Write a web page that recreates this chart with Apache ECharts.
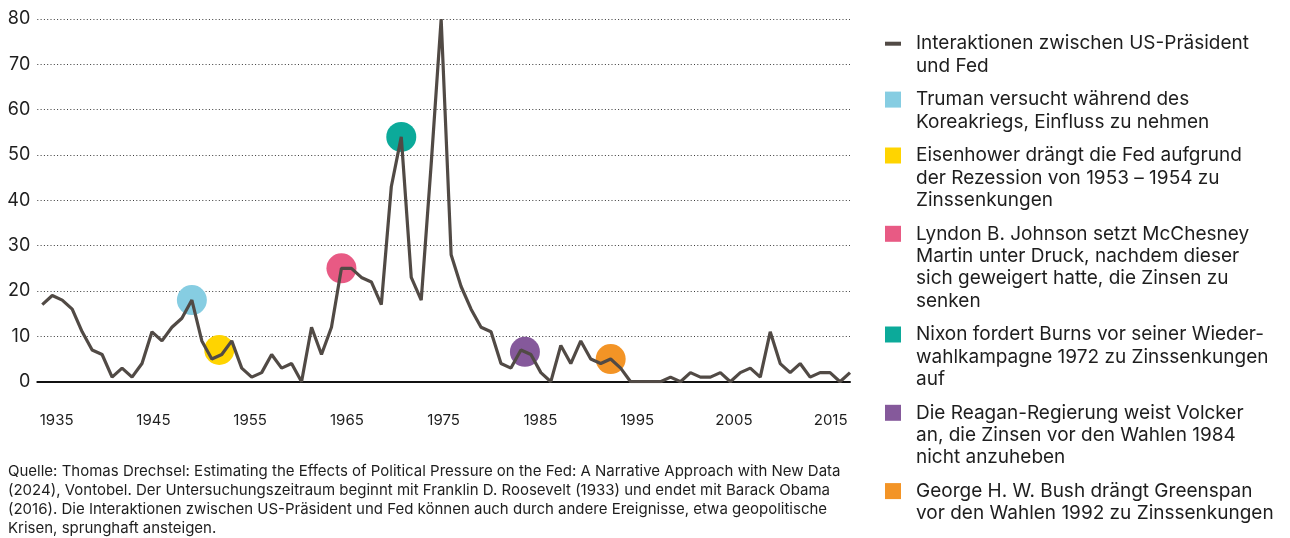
<!DOCTYPE html>
<html lang="de">
<head>
<meta charset="utf-8">
<title>Interaktionen zwischen US-Präsident und Fed</title>
<script src="https://cdn.jsdelivr.net/npm/echarts@6/dist/echarts.min.js"></script>
<style>
  html, body { margin: 0; padding: 0; background: #fff; }
  #chart { width: 1290px; height: 538px; }
</style>
</head>
<body>
<div id="chart"></div>
<script>
// Jährliche Interaktionen zwischen US-Präsident und Fed
const years = [
  1935, 1936, 1937, 1938, 1939, 1940, 1941, 1942, 1943, 1944,
  1945, 1946, 1947, 1948, 1949, 1950, 1951, 1952, 1953, 1954,
  1955, 1956, 1957, 1958, 1959, 1960, 1961, 1962, 1963, 1964,
  1965, 1966, 1967, 1968, 1969, 1970, 1971, 1972, 1973, 1974,
  1975, 1976, 1977, 1978, 1979, 1980, 1981, 1982, 1983, 1984,
  1985, 1986, 1987, 1988, 1989, 1990, 1991, 1992, 1993, 1994,
  1995, 1996, 1997, 1998, 1999, 2000, 2001, 2002, 2003, 2004,
  2005, 2006, 2007, 2008, 2009, 2010, 2011, 2012, 2013, 2014,
  2015, 2016
];
const interactions = [
  17, 19, 18, 16, 11, 7, 6, 1, 3, 1,
  4, 11, 9, 12, 14, 18, 9, 5, 6, 9,
  3, 1, 2, 6, 3, 4, 0, 12, 6, 12,
  25, 25, 23, 22, 17, 43, 54, 23, 18, 48,
  80, 28, 21, 16, 12, 11, 4, 3, 7, 6,
  2, 0, 8, 4, 9, 5, 4, 5, 3, 0,
  0, 0, 0, 1, 0, 2, 1, 1, 2, 0,
  2, 3, 1, 11, 4, 2, 4, 1, 2, 2,
  0, 2
];

// Beschriftete Jahre der Zeitachse
const yearTicks = [1935, 1945, 1955, 1965, 1975, 1985, 1995, 2005, 2015];

// Hervorgehobene Episoden politischen Drucks
const lineName = 'Interaktionen zwischen US-Präsident\nund Fed';
const eventNames = [
  'Truman versucht während des\nKoreakriegs, Einfluss zu nehmen',
  'Eisenhower drängt die Fed aufgrund\nder Rezession von 1953 – 1954 zu\nZinssenkungen',
  'Lyndon B. Johnson setzt McChesney\nMartin unter Druck, nachdem dieser\nsich geweigert hatte, die Zinsen zu\nsenken',
  'Nixon fordert Burns vor seiner Wieder-\nwahlkampagne 1972 zu Zinssenkungen\nauf',
  'Die Reagan-Regierung weist Volcker\nan, die Zinsen vor den Wahlen 1984\nnicht anzuheben',
  'George H. W. Bush drängt Greenspan\nvor den Wahlen 1992 zu Zinssenkungen'
];
const eventYears = [1950, 1952.75, 1965, 1971, 1983.4, 1992];
const eventValues = [18, 7, 25, 54, 6.6, 5];
const eventColors = ['#86cde2', '#ffd400', '#e85a84', '#0caa9a', '#85599b', '#f39426'];

const sourceNote = [
  'Quelle: Thomas Drechsel: Estimating the Effects of Political Pressure on the Fed: A Narrative Approach with New Data',
  '(2024), Vontobel. Der Untersuchungszeitraum beginnt mit Franklin D. Roosevelt (1933) und endet mit Barack Obama',
  '(2016). Die Interaktionen zwischen US-Präsident und Fed können auch durch andere Ereignisse, etwa geopolitische',
  'Krisen, sprunghaft ansteigen.'
];

const FONT = 'Inter, "Noto Sans", sans-serif';
const INK = '#1e1e1e';
const LINE_COLOR = '#514a45';

const chart = echarts.init(document.getElementById('chart'), null, { renderer: 'canvas' });

// Legend built as graphic elements so the marker sits on the first text line
const legendGraphics = [];
const legendEntries = [{ name: lineName, color: LINE_COLOR, line: true }]
  .concat(eventNames.map((n, i) => ({ name: n, color: eventColors[i], line: false })));
const LEG_LINE_H = 22.4;
const LEG_GAP = 11.1;
let rowCenter = 43.7;
legendEntries.forEach(entry => {
  const nLines = entry.name.split('\n').length;
  if (entry.line) {
    legendGraphics.push({
      type: 'rect', x: 885, y: rowCenter - 2, shape: { width: 16, height: 4 },
      style: { fill: entry.color }
    });
  } else {
    legendGraphics.push({
      type: 'rect', x: 885, y: rowCenter - 8, shape: { width: 16, height: 16 },
      style: { fill: entry.color }
    });
  }
  legendGraphics.push({
    type: 'text', x: 916, y: rowCenter - LEG_LINE_H / 2,
    style: {
      text: entry.name, fontFamily: FONT, fontSize: 19, lineHeight: LEG_LINE_H,
      fill: INK, verticalAlign: 'top', align: 'left'
    }
  });
  rowCenter += nLines * LEG_LINE_H + LEG_GAP;
});

legendGraphics.push({
  type: 'text', x: 8, y: 462,
  style: {
    text: sourceNote.join('\n'), fontFamily: FONT, fontSize: 15, lineHeight: 19,
    fill: INK, verticalAlign: 'top', align: 'left'
  }
});

const option = {
  animation: false,
  backgroundColor: '#ffffff',
  grid: { left: 37.3, right: 440, top: 19, bottom: 156.3, containLabel: false },
  xAxis: [
    {
      type: 'value', min: 1934.5, max: 2016,
      axisLine: { show: true, onZero: true, lineStyle: { color: '#111111', width: 2 } },
      axisTick: { show: false }, axisLabel: { show: false }, splitLine: { show: false }
    },
    {
      type: 'value', min: 1933, max: 2017, position: 'bottom',
      axisLine: { show: false }, axisTick: { show: false }, splitLine: { show: false },
      axisLabel: {
        customValues: yearTicks, formatter: v => String(v),
        margin: 31, fontSize: 15, fontFamily: FONT, color: INK
      }
    }
  ],
  yAxis: {
    type: 'value', min: 0, max: 80, interval: 10,
    axisLine: { show: false }, axisTick: { show: false },
    axisLabel: { margin: 7, fontSize: 18, fontFamily: FONT, color: INK },
    splitLine: { show: true, lineStyle: { color: '#3a3a3a', width: 1, type: [1, 2.3] } }
  },
  series: [
    ...eventNames.map((name, i) => ({
      name: name.replace(/\n/g, ' '),
      type: 'scatter', xAxisIndex: 0, z: 2, silent: true,
      symbol: 'circle', symbolSize: 30,
      itemStyle: { color: eventColors[i], opacity: 1 },
      data: [[eventYears[i], eventValues[i]]]
    })),
    {
      name: lineName.replace(/\n/g, ' '),
      type: 'line', xAxisIndex: 0, z: 3, silent: true,
      showSymbol: false, symbol: 'none',
      lineStyle: { color: LINE_COLOR, width: 3.2 },
      data: years.map((y, i) => [y, interactions[i]])
    }
  ],
  graphic: legendGraphics
};

chart.setOption(option);
</script>
</body>
</html>
